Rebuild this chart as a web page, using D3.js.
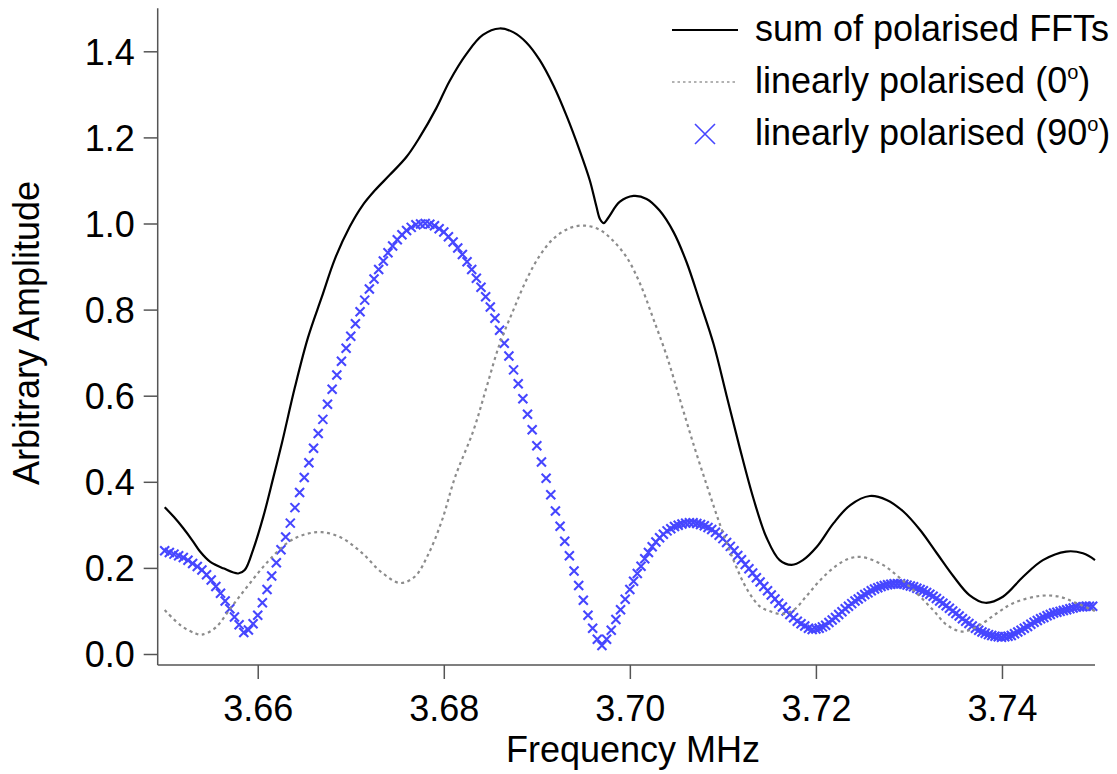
<!DOCTYPE html>
<html lang="en">
<head>
  <meta charset="UTF-8">
  <title>Polarised FFT amplitudes</title>
  <style>
    body {
      margin: 0;
      background: #fff;
      font-family: "Liberation Sans", Arial, sans-serif;
    }
    svg text {
      font-family: "Liberation Sans", Arial, sans-serif;
      fill: #000;
    }
  </style>
</head>
<body>
  <div id="chart"></div>

  <script src="https://cdn.jsdelivr.net/npm/d3@7/dist/d3.min.js"></script>
  <script>
    // ---- data ----
    // sum of polarised FFTs (solid black)
    const sumFreq = [3.6500, 3.6510, 3.6520, 3.6530, 3.6538, 3.6549, 3.6563, 3.6579, 3.6586, 3.6595,
      3.6606, 3.6617, 3.6626, 3.6640, 3.6654, 3.6669, 3.6683, 3.6699, 3.6712, 3.6726,
      3.6742, 3.6760, 3.6774, 3.6792, 3.6806, 3.6824, 3.6842, 3.6860, 3.6875,
      3.6889, 3.6903, 3.6918, 3.6932, 3.6946, 3.6957, 3.6964, 3.6968, 3.6972, 3.6977,
      3.6989, 3.7004, 3.7018, 3.7032, 3.7047, 3.7061, 3.7075, 3.7090, 3.7104, 3.7118,
      3.7133, 3.7147, 3.7161, 3.7174, 3.7186, 3.7201, 3.7219, 3.7237, 3.7258, 3.7276,
      3.7294, 3.7312, 3.7330, 3.7348, 3.7365, 3.7382, 3.7401, 3.7423, 3.7444, 3.7469,
      3.7487, 3.7500];
    const sumAmp = [0.341, 0.318, 0.292, 0.263, 0.238, 0.214, 0.199, 0.187, 0.195, 0.242,
      0.319, 0.412, 0.490, 0.620, 0.735, 0.830, 0.918, 0.993, 1.040, 1.077,
      1.113, 1.155, 1.200, 1.268, 1.330, 1.393, 1.438, 1.453, 1.444,
      1.420, 1.380, 1.320, 1.250, 1.170, 1.100, 1.040, 1.010, 1.001, 1.014,
      1.050, 1.064, 1.057, 1.030, 0.980, 0.910, 0.820, 0.720, 0.600, 0.480,
      0.360, 0.270, 0.218, 0.207, 0.218, 0.249, 0.304, 0.346, 0.367, 0.358,
      0.331, 0.288, 0.234, 0.180, 0.137, 0.119, 0.133, 0.180, 0.218, 0.238,
      0.234, 0.218];

    // linearly polarised 0 deg (grey dotted)
    const zeroFreq = [3.6500, 3.6518, 3.6533, 3.6540, 3.6554, 3.6572, 3.6590, 3.6611, 3.6633, 3.6651,
      3.6669, 3.6690, 3.6712, 3.6733, 3.6753, 3.6769, 3.6783, 3.6798, 3.6812, 3.6832,
      3.6846, 3.6860, 3.6875, 3.6889, 3.6903, 3.6918, 3.6936, 3.6952, 3.6968, 3.6982,
      3.6997, 3.7011, 3.7025, 3.7040, 3.7054, 3.7068, 3.7083, 3.7097, 3.7111, 3.7126,
      3.7140, 3.7150, 3.7163, 3.7176, 3.7190, 3.7204, 3.7220, 3.7236, 3.7250, 3.7272,
      3.7290, 3.7308, 3.7326, 3.7341, 3.7358, 3.7376, 3.7394, 3.7412, 3.7441, 3.7462,
      3.7480, 3.7500];
    const zeroAmp = [0.102, 0.065, 0.048, 0.045, 0.060, 0.110, 0.160, 0.215, 0.260, 0.278,
      0.283, 0.270, 0.235, 0.190, 0.165, 0.180, 0.230, 0.310, 0.410, 0.520,
      0.620, 0.720, 0.800, 0.870, 0.925, 0.965, 0.990, 0.995, 0.985, 0.960,
      0.920, 0.860, 0.780, 0.690, 0.590, 0.490, 0.390, 0.300, 0.220, 0.150,
      0.110, 0.100, 0.093, 0.102, 0.135, 0.170, 0.202, 0.222, 0.225, 0.207,
      0.177, 0.142, 0.102, 0.067, 0.052, 0.067, 0.094, 0.118, 0.135, 0.133,
      0.118, 0.100];

    // linearly polarised 90 deg (blue crosses)
    const ninetyFreq = [
      3.650, 3.6505, 3.651, 3.6515, 3.652, 3.6525, 3.653, 3.6535, 3.654, 3.6545,
      3.655, 3.6555, 3.656, 3.6565, 3.657, 3.6575, 3.658, 3.6585, 3.659, 3.6595,
      3.660, 3.6605, 3.661, 3.6615, 3.662, 3.6625, 3.663, 3.6635, 3.664, 3.6645,
      3.665, 3.6655, 3.666, 3.6665, 3.667, 3.6675, 3.668, 3.6685, 3.669, 3.6695,
      3.670, 3.6705, 3.671, 3.6715, 3.672, 3.6725, 3.673, 3.6735, 3.674, 3.6745,
      3.675, 3.6755, 3.676, 3.6765, 3.677, 3.6775, 3.678, 3.6785, 3.679, 3.6795,
      3.680, 3.6805, 3.681, 3.6815, 3.682, 3.6825, 3.683, 3.6835, 3.684, 3.6845,
      3.685, 3.6855, 3.686, 3.6865, 3.687, 3.6875, 3.688, 3.6885, 3.689, 3.6895,
      3.690, 3.6905, 3.691, 3.6915, 3.692, 3.6925, 3.693, 3.6935, 3.694, 3.6945,
      3.695, 3.6955, 3.696, 3.6965, 3.697, 3.6975, 3.698, 3.6985, 3.699, 3.6995,
      3.700,
      3.7004, 3.7008, 3.7012, 3.7016, 3.7020, 3.7024, 3.7028, 3.7032, 3.7036, 3.7040,
      3.7044, 3.7048, 3.7052, 3.7056, 3.7060, 3.7064, 3.7068, 3.7072, 3.7076, 3.7080,
      3.7084, 3.7088, 3.7092, 3.7096, 3.7100, 3.7104, 3.7108, 3.7112, 3.7116, 3.7120,
      3.7124, 3.7128, 3.7132, 3.7136, 3.7140, 3.7144, 3.7148, 3.7152, 3.7156, 3.7160,
      3.7164, 3.7168, 3.7172, 3.7176, 3.7180, 3.7184, 3.7188, 3.7192, 3.7196, 3.7200,
      3.72035, 3.7207, 3.72105, 3.7214, 3.72175, 3.7221, 3.72245, 3.7228, 3.72315, 3.7235,
      3.72385, 3.7242, 3.72455, 3.7249, 3.72525, 3.7256, 3.72595, 3.7263, 3.72665, 3.7270,
      3.72735, 3.7277, 3.72805, 3.7284, 3.72875, 3.7291, 3.72945, 3.7298, 3.73015, 3.7305,
      3.73085, 3.7312, 3.73155, 3.7319, 3.73225, 3.7326, 3.73295, 3.7333, 3.73365, 3.7340,
      3.73435, 3.7347, 3.73505, 3.7354, 3.73575, 3.7361, 3.73645, 3.7368, 3.73715, 3.7375,
      3.73785, 3.7382, 3.73855, 3.7389, 3.73925, 3.7396, 3.73995, 3.7403, 3.74065, 3.7410,
      3.74135, 3.7417, 3.74205, 3.7424, 3.74275, 3.7431, 3.74345, 3.7438, 3.74415, 3.7445,
      3.74485, 3.7452, 3.74555, 3.7459, 3.74625, 3.7466, 3.74695, 3.7473, 3.74765, 3.7480,
      3.74835, 3.7487, 3.74905, 3.7494, 3.74975];
    const ninetyAmp = [
      0.240, 0.236, 0.232, 0.228, 0.224, 0.218, 0.210, 0.203, 0.195, 0.184,
      0.172, 0.157, 0.141, 0.123, 0.105, 0.086, 0.068, 0.050, 0.056, 0.070,
      0.090, 0.119, 0.150, 0.181, 0.212, 0.242, 0.272, 0.304, 0.340, 0.375,
      0.410, 0.444, 0.478, 0.512, 0.545, 0.580, 0.615, 0.648, 0.680, 0.710,
      0.738, 0.767, 0.795, 0.822, 0.848, 0.871, 0.893, 0.913, 0.932, 0.948,
      0.962, 0.974, 0.984, 0.991, 0.997, 0.999, 1.000, 0.998, 0.995, 0.988,
      0.980, 0.969, 0.957, 0.943, 0.928, 0.911, 0.893, 0.873, 0.852, 0.830,
      0.806, 0.780, 0.752, 0.722, 0.692, 0.660, 0.628, 0.593, 0.557, 0.521,
      0.484, 0.446, 0.408, 0.370, 0.332, 0.297, 0.262, 0.228, 0.193, 0.159,
      0.125, 0.090, 0.060, 0.034, 0.020, 0.034, 0.055, 0.080, 0.103, 0.127,
      0.150,
      0.169, 0.187, 0.204, 0.221, 0.236, 0.249, 0.260, 0.270, 0.278, 0.286,
      0.291, 0.296, 0.299, 0.302, 0.304, 0.305, 0.305, 0.303, 0.301, 0.298,
      0.294, 0.289, 0.283, 0.276, 0.268, 0.259, 0.250, 0.240, 0.229, 0.219,
      0.208, 0.198, 0.188, 0.177, 0.167, 0.157, 0.147, 0.137, 0.128, 0.118,
      0.109, 0.100, 0.092, 0.084, 0.076, 0.070, 0.065, 0.060, 0.057, 0.058,
      0.060, 0.063, 0.067, 0.073, 0.079, 0.085, 0.092, 0.098, 0.105, 0.111,
      0.117, 0.123, 0.128, 0.133, 0.138, 0.142, 0.147, 0.151, 0.154, 0.157,
      0.159, 0.161, 0.162, 0.163, 0.163, 0.163, 0.162, 0.160, 0.158, 0.156,
      0.153, 0.150, 0.147, 0.143, 0.139, 0.134, 0.129, 0.123, 0.118, 0.112,
      0.106, 0.100, 0.094, 0.088, 0.082, 0.076, 0.071, 0.065, 0.060, 0.055,
      0.051, 0.048, 0.045, 0.043, 0.041, 0.040, 0.039, 0.040, 0.041, 0.043,
      0.047, 0.051, 0.055, 0.060, 0.064, 0.069, 0.074, 0.078, 0.082, 0.085,
      0.089, 0.092, 0.095, 0.097, 0.099, 0.101, 0.103, 0.105, 0.107, 0.109,
      0.110, 0.110, 0.111, 0.111, 0.111];

    const xTicks = [3.66, 3.68, 3.70, 3.72, 3.74];
    const yTicks = [0.0, 0.2, 0.4, 0.6, 0.8, 1.0, 1.2, 1.4];
    const legendLabels = ["sum of polarised FFTs", "linearly polarised (0", "linearly polarised (90"];

    // ---- drawing ----
    const width = 1117, height = 774;
    const blue = "#4646ff", grey = "#8c8c8c", axisCol = "#555";
    const fontSize = 36;

    const svg = d3.select("#chart").append("svg")
      .attr("width", width)
      .attr("height", height);

    const x = d3.scaleLinear().domain([3.65, 3.75]).range([164.7, 1095]);
    const y = d3.scaleLinear().domain([0, 1.4]).range([654, 51.3]);

    const toPts = (fs, vs) => fs.map((f, i) => ({ f: f, v: vs[i] }));
    const sumData = toPts(sumFreq, sumAmp);
    const zeroData = toPts(zeroFreq, zeroAmp);
    const ninetyData = toPts(ninetyFreq, ninetyAmp);

    const line = d3.line()
      .x(d => x(d.f))
      .y(d => y(d.v))
      .curve(d3.curveCatmullRom.alpha(0.5));

    // axis frame (left and bottom, slightly outside the data range)
    const axisLeftX = x(3.65) - 7;
    const axisBottomY = y(0) + 11;

    svg.append("line")
      .attr("x1", axisLeftX).attr("x2", axisLeftX)
      .attr("y1", y(1.5)).attr("y2", axisBottomY)
      .attr("stroke", axisCol).attr("stroke-width", 1.5);
    svg.append("line")
      .attr("x1", axisLeftX).attr("x2", x(3.75))
      .attr("y1", axisBottomY).attr("y2", axisBottomY)
      .attr("stroke", axisCol).attr("stroke-width", 1.5);

    const yAxis = svg.append("g")
      .attr("transform", `translate(${axisLeftX},0)`)
      .call(d3.axisLeft(y).tickValues(yTicks).tickFormat(d3.format(".1f"))
        .tickSize(14).tickPadding(9));
    yAxis.select(".domain").remove();
    yAxis.selectAll("line").attr("stroke", axisCol).attr("stroke-width", 1.5);
    yAxis.selectAll("text")
      .attr("font-size", fontSize)
      .attr("dy", "0.36em")
      .attr("font-family", "Liberation Sans, Arial, sans-serif");

    const xAxis = svg.append("g")
      .attr("transform", `translate(0,${axisBottomY})`)
      .call(d3.axisBottom(x).tickValues(xTicks).tickFormat(d3.format(".2f"))
        .tickSize(14).tickPadding(16));
    xAxis.select(".domain").remove();
    xAxis.selectAll("line").attr("stroke", axisCol).attr("stroke-width", 1.5);
    xAxis.selectAll("text")
      .attr("font-size", fontSize)
      .attr("font-family", "Liberation Sans, Arial, sans-serif");

    // axis titles
    svg.append("text")
      .attr("x", 633).attr("y", 762)
      .attr("text-anchor", "middle")
      .attr("font-size", fontSize)
      .text("Frequency MHz");
    svg.append("text")
      .attr("transform", "translate(39,333) rotate(-90)")
      .attr("text-anchor", "middle")
      .attr("font-size", fontSize)
      .text("Arbitrary Amplitude");

    // 90 degree series: crosses
    const cross = "M-4.5,-4.5L4.5,4.5M-4.5,4.5L4.5,-4.5";
    svg.append("g")
      .selectAll("path")
      .data(ninetyData)
      .enter()
      .append("path")
      .attr("d", cross)
      .attr("transform", d => `translate(${x(d.f)},${y(d.v)})`)
      .attr("fill", "none")
      .attr("stroke", blue)
      .attr("stroke-width", 2.1);

    // 0 degree series: dotted grey
    svg.append("path")
      .datum(zeroData)
      .attr("d", line)
      .attr("fill", "none")
      .attr("stroke", grey)
      .attr("stroke-width", 2.2)
      .attr("stroke-dasharray", "3,3.5");

    // sum: solid black
    svg.append("path")
      .datum(sumData)
      .attr("d", line)
      .attr("fill", "none")
      .attr("stroke", "#000")
      .attr("stroke-width", 2.2);

    // legend
    const legend = svg.append("g");
    const rowY = [30, 82, 134];
    const textX = 755;

    legend.append("line")
      .attr("x1", 672).attr("x2", 738).attr("y1", rowY[0]).attr("y2", rowY[0])
      .attr("stroke", "#000").attr("stroke-width", 2);
    legend.append("line")
      .attr("x1", 672).attr("x2", 738).attr("y1", rowY[1]).attr("y2", rowY[1])
      .attr("stroke", "#999").attr("stroke-width", 1.6)
      .attr("stroke-dasharray", "2.5,3");
    legend.append("path")
      .attr("d", "M-10,-10L10,10M-10,10L10,-10")
      .attr("transform", `translate(705,${rowY[2]})`)
      .attr("fill", "none")
      .attr("stroke", blue)
      .attr("stroke-width", 1.6);

    legendLabels.forEach((label, i) => {
      const t = legend.append("text")
        .attr("x", textX)
        .attr("y", rowY[i] + 11)
        .attr("font-size", fontSize);
      t.append("tspan").text(label);
      if (i > 0) {
        t.append("tspan").attr("font-size", 20).attr("dy", -14).text("o");
        t.append("tspan").attr("dy", 14).text(")");
      }
    });
  </script>
</body>
</html>
